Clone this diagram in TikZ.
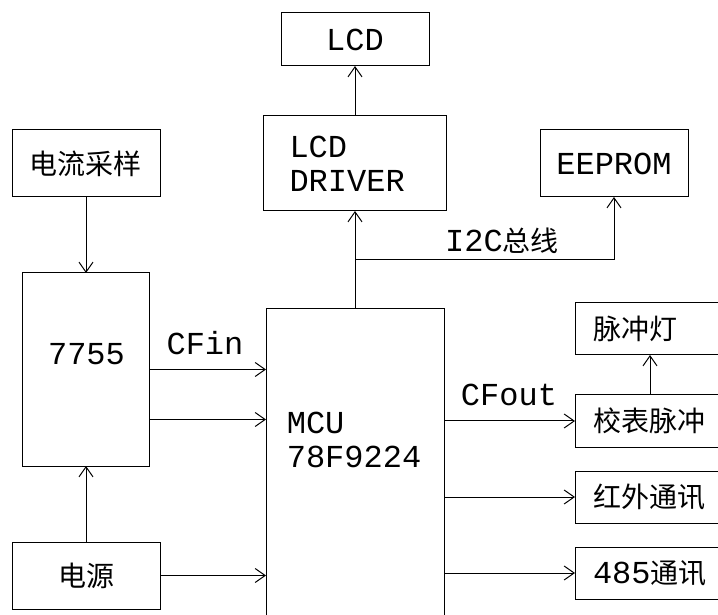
\documentclass[tikz,border=0pt]{standalone}
\usepackage{fontspec}
\newfontfamily\cadfont{Liberation Mono}
\newfontfamily\cjkfont{Noto Sans CJK SC}
\newcommand\lat[1]{{\fontsize{32}{34}\selectfont\cadfont #1}}
\usetikzlibrary{arrows.meta,positioning,calc}

\begin{document}
\begin{tikzpicture}[
  x=1pt, y=1pt,
  line width=1pt,
  >={Straight Barb[length=10pt,width=14pt]},
  lat/.style={font=\fontsize{32}{34}\selectfont\cadfont},
  han/.style={font=\fontsize{28}{32}\selectfont\cjkfont},
  box/.style={draw, inner sep=0pt, outer sep=0pt},
  side/.style={box, han, anchor=west, minimum width=150pt, minimum height=52pt,
    text width=114pt, inner xsep=18pt, align=left},
  arrow/.style={->}
]
\useasboundingbox (0,0) rectangle (718,614);
\clip (0,0) rectangle (718,614);

% display and memory
\node[box, lat, minimum width=148pt, minimum height=53pt] (lcd) at (355,574.5) {LCD};
\node[box, lat, minimum width=183pt, minimum height=95pt, text width=131pt,
  inner xsep=26pt, align=left] (drv) at (355,450.5) {LCD\\DRIVER};
\node[box, lat, minimum width=148pt, minimum height=67pt] (eep) at (614,450.5) {EEPROM};

% metering side
\node[box, han, minimum width=148pt, minimum height=67pt] (cur) at (86,450.5) {电流采样};
\node[box, minimum width=127pt, minimum height=193pt] (adc) at (86,244.5) {};
\node[lat] (adctxt) at (86.5,260) {7755};
\node[box, han, minimum width=148pt, minimum height=67pt] (pwr) at (86,38.5) {电源};

% controller (runs off the page)
\node[box, minimum width=178pt, minimum height=325pt] (mcu) at (355,142.5) {};
\node[lat, anchor=base west] (mcutop) at (283,181) {MCU};
\node[lat, anchor=base west] (mcubot) at (283,147) {78F9224};

% outputs, cut at the right edge
\node[side] (lamp) at (575,285) {脉冲灯};
\node[side] (cal) at (575,193) {校表脉冲};
\node[side] (ir) at (575,117) {红外通讯};
\node[side] (rs) at (575,41) {\lat{485}通讯};

% links
\draw[arrow] (drv) -- (lcd);
\draw[arrow] (cur) -- (adc);
\draw[arrow] (pwr) -- (adc);
\draw[arrow] (adc.east) -- (adc.east -| mcu.west);
\node[lat] (cfin) at (205,271) {CFin};
\draw[arrow] ([yshift=-50pt]adc.east) -- ([yshift=-50pt]adc.east -| mcu.west);
\draw[arrow] (pwr.east) -- (pwr.east -| mcu.west);

\draw[arrow] (mcu) -- (drv);
\coordinate (bus) at ($(mcu.north)!.5!(drv.south)$);
\draw[arrow] (bus) -| (eep);
\node[han] (i2c) at (502,373) {\lat{I2C}总线};

\draw[arrow] (cal.west -| mcu.east) -- (cal);
\node[lat] (cfout) at (509,219) {CFout};
\draw[arrow] (ir.west -| mcu.east) -- (ir);
\draw[arrow] (rs.west -| mcu.east) -- (rs);
\draw[arrow] (cal) -- (lamp);

\end{tikzpicture}
\end{document}
